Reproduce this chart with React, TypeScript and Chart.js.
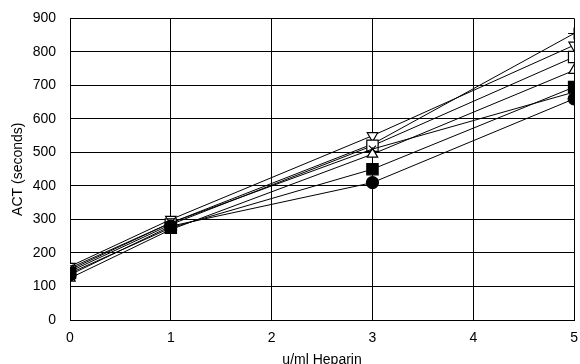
import React, { useEffect, useRef } from "react";
import { Chart, registerables } from "chart.js";

Chart.register(...registerables);

const doses = [0, 1, 3, 5];
const seriesPlus = [150, 290, 525, 855];
const seriesTriDown = [160, 300, 550, 820];
const seriesSquareOpen = [145, 285, 520, 785];
const seriesTriOpen = [125, 270, 495, 745];
const seriesSquareFilled = [140, 275, 450, 695];
const seriesCircleFilled = [135, 280, 410, 660];
const seriesCross = [155, 290, 510, 680];

const xTitle = "u/ml Heparin";
const yTitle = "ACT (seconds)";

const FONT = "'Liberation Sans', Arial, sans-serif";

export default function App() {
  const ref = useRef<HTMLCanvasElement | null>(null);
  useEffect(() => {
    if (!ref.current) return;
    const mk = (data: number[], style: string, fill: boolean, rot = 0, r = 5) => ({
      data: doses.map((x, i) => ({ x, y: data[i] })),
      borderColor: "#000",
      backgroundColor: fill ? "#000" : "#fff",
      pointBorderColor: "#000",
      pointBackgroundColor: fill ? "#000" : "#fff",
      pointStyle: style,
      pointRotation: rot,
      pointRadius: r,
      pointBorderWidth: 1.2,
      borderWidth: 1,
      tension: 0,
      fill: false,
    });
    const chart = new Chart(ref.current, {
      type: "line",
      data: {
        datasets: [
          mk(seriesCross, "crossRot", false, 0, 5),
          mk(seriesSquareFilled, "rect", true, 0, 8),
          mk(seriesCircleFilled, "circle", true, 0, 6),
          mk(seriesTriOpen, "triangle", false, 0, 6),
          mk(seriesSquareOpen, "rect", false, 0, 8),
          mk(seriesTriDown, "triangle", false, 180, 6),
          mk(seriesPlus, "cross", false, 0, 6),
        ] as any,
      },
      options: {
        animation: false,
        responsive: false,
        maintainAspectRatio: false,
        layout: { padding: { left: 0, right: 0, top: 2, bottom: 0 } },
        plugins: { legend: { display: false }, tooltip: { enabled: false } },
        scales: {
          x: {
            type: "linear",
            min: 0,
            max: 5,
            afterFit: (s: any) => { s.height = 44; },
            ticks: { stepSize: 1, color: "#000", font: { family: FONT, size: 14 }, padding: 10 },
            grid: { color: "#000", lineWidth: 1, drawTicks: false },
            border: { color: "#000", width: 1 },
            title: { display: true, text: xTitle, color: "#000", font: { family: FONT, size: 14 }, padding: { top: 2, bottom: -5 } },
          },
          y: {
            min: 0,
            max: 900,
            afterFit: (s: any) => { s.width = 70; },
            ticks: { stepSize: 100, color: "#000", font: { family: FONT, size: 14 }, padding: 14 },
            grid: { color: "#000", lineWidth: 1, drawTicks: false },
            border: { color: "#000", width: 1 },
            title: { display: true, text: yTitle, color: "#000", font: { family: FONT, size: 14 }, padding: { top: 10, bottom: 0 } },
          },
        },
      },
    });
    return () => chart.destroy();
  }, []);
  return (
    <div style={{ position: "fixed", left: 0, top: 0, width: 580, height: 364, background: "#fff", overflow: "hidden" }}>
      <canvas ref={ref} width={588} height={368} style={{ display: "block", marginTop: -4 }} />
    </div>
  );
}
